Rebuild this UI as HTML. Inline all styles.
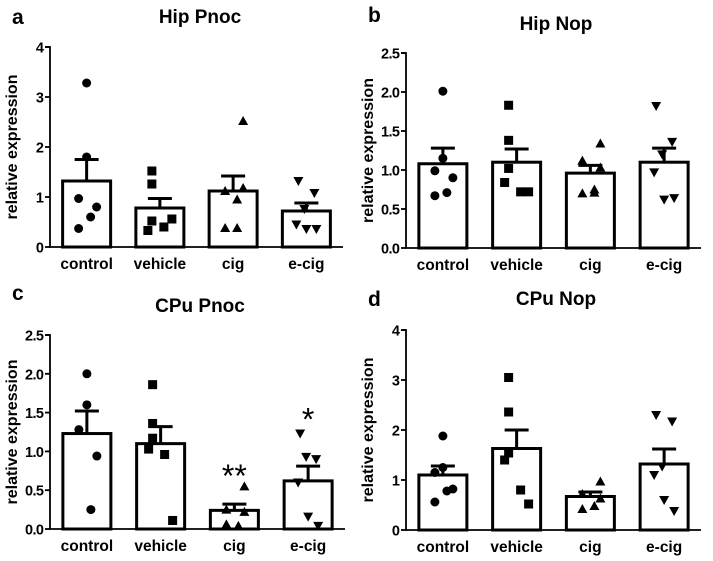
<!DOCTYPE html>
<html><head><meta charset="utf-8">
<style>
html,body{margin:0;padding:0;background:#fff;}
svg{display:block;font-family:"Liberation Sans",Arial,sans-serif;font-weight:bold;}
</style></head>
<body>
<svg id="fig" width="713" height="561" viewBox="0 0 713 561" xmlns="http://www.w3.org/2000/svg"></svg>
<script>
const categories = ["control","vehicle","cig","e-cig"];
const shapes = ["circle","square","up","down"];

const aMeans = [1.32,0.78,1.12,0.72];
const aSem = [1.75,0.97,1.42,0.88];
const aPoints = [[3.28,1.8,0.97,0.8,0.6,0.37],[1.52,1.26,0.52,0.33,0.4,0.56],[2.52,1.12,1.18,0.95,0.38,0.38],[1.32,1.08,0.76,0.45,0.36,0.36]];
const aTicks = ["0","1","2","3","4"];

const bMeans = [1.08,1.1,0.96,1.1];
const bSem = [1.28,1.27,1.06,1.28];
const bPoints = [[2.01,1.15,0.99,0.9,0.71,0.67],[1.83,1.38,1.02,0.84,0.72,0.72],[1.34,1.12,1.03,0.75,0.7,0.71],[1.82,1.36,1.2,0.97,0.62,0.64]];
const bTicks = ["0.0","0.5","1.0","1.5","2.0","2.5"];

const cMeans = [1.23,1.1,0.24,0.62];
const cSem = [1.52,1.32,0.32,0.81];
const cPoints = [[2.0,1.6,1.28,0.94,0.25],[1.86,1.36,1.17,1.03,0.96,0.11],[0.55,0.25,0.22,0.04,0.06],[1.23,0.9,0.93,0.6,0.16,0.04]];
const cTicks = ["0.0","0.5","1.0","1.5","2.0","2.5"];
const cStars = ["","","**","*"];
const cStarY = [0,0,0.77,1.5];

const dMeans = [1.1,1.63,0.67,1.32];
const dSem = [1.28,2.0,0.76,1.62];
const dPoints = [[1.88,1.25,1.15,0.82,0.78,0.56],[3.05,2.36,1.54,1.4,0.8,0.52],[0.97,0.72,0.63,0.48,0.42],[2.3,2.17,1.27,1.1,0.6,0.38]];
const dTicks = ["0","1","2","3","4"];

const jitter = [[0,0,-8,10,4,-8],[-8,-8,-8,-12,4,12],[10,-8,10,4,-8,4],[-8,8,-2,-10,0,10]];
const NS = "http://www.w3.org/2000/svg";
const svg = document.getElementById('fig');
function el(tag, attrs, parent){const e=document.createElementNS(NS,tag);for(const k in attrs)e.setAttribute(k,attrs[k]);(parent||svg).appendChild(e);return e;}

function panel(cfg){
  const g = el('g',{});
  
  
  const x0=cfg.x0,x1=cfg.x1,yTop=cfg.yTop,yBot=cfg.yBot,max=cfg.max;
  const y = v => yBot - v/max*(yBot-yTop);
  const band=(x1-x0)/categories.length;
  const cx = i => x0 + band*(i+0.5);
  let t=el('text',{x:cfg.lx,y:cfg.ly,'font-size':21},g); t.textContent=cfg.letter;
   
  t=el('text',{x:cfg.tx,y:cfg.ty,'font-size':19,'text-anchor':'middle'},g); t.textContent=cfg.title;
   
  cfg.means.forEach((m,i)=>{
    const w=48;
    const r=el('rect',{x:cx(i)-w/2,y:y(m),width:w,height:yBot-y(m),fill:'#fff',stroke:'#000','stroke-width':3},g);
     
    const e=el('path',{d:`M${cx(i)} ${y(m)}V${y(cfg.sem[i])}M${cx(i)-12} ${y(cfg.sem[i])}H${cx(i)+12}`,stroke:'#000','stroke-width':3,fill:'none'},g);
     
  });
  cfg.points.forEach((arr,i)=>{
    arr.forEach((v,j)=>{
      const px=cx(i)+jitter[i][j], py=y(v), s=shapes[i];
      let p;
      if(s==='circle') p=el('circle',{cx:px,cy:py,r:4.5},g);
      else if(s==='square') p=el('rect',{x:px-4.5,y:py-4.5,width:9,height:9},g);
      else if(s==='up') p=el('path',{d:`M${px} ${py-5}L${px+5} ${py+4}L${px-5} ${py+4}Z`},g);
      else p=el('path',{d:`M${px} ${py+5}L${px+5} ${py-4}L${px-5} ${py-4}Z`},g);
       
    });
  });
  const ax=el('path',{d:`M${x0-5} ${yTop}H${x0}V${yBot}H${x1}`,stroke:'#000','stroke-width':1.8,fill:'none'},g);
   
  cfg.ticks.forEach((lab,k)=>{
    const v=parseFloat(lab), ty=y(v);
    el('line',{x1:x0-5,x2:x0,y1:ty,y2:ty,stroke:'#000','stroke-width':1.8},g);
    const tt=el('text',{x:x0-6,y:ty+5.5,'font-size':14.5,'text-anchor':'end'},g); tt.textContent=lab;
    if(lab.length>1) tt.setAttribute('textLength', 19);
     
  });
  categories.forEach((c,i)=>{
    const tt=el('text',{x:cx(i),y:yBot+22,'font-size':15.5,'text-anchor':'middle'},g); tt.textContent=c;
     
  });
  const yl=el('text',{x:0,y:0,'font-size':16,'text-anchor':'middle',transform:`translate(${x0-33},${(yTop+yBot)/2}) rotate(-90)`},g);
  yl.textContent='relative expression';
   
  if(cfg.stars){
    cfg.stars.forEach((s,i)=>{ if(!s) return;
      const st=el('text',{x:cx(i),y:y(cfg.starY[i])+18,'font-size':32,'font-weight':'normal','text-anchor':'middle'},g); st.textContent=s;
       
    });
  }
}
panel({letter:'a',title:'Hip Pnoc',lx:12,ly:24,tx:200,ty:23,x0:50,x1:343,yTop:47,yBot:247,max:4,means:aMeans,sem:aSem,points:aPoints,ticks:aTicks});
panel({letter:'b',title:'Hip Nop',lx:368,ly:22,tx:556,ty:30,x0:406,x1:701,yTop:53,yBot:248,max:2.5,means:bMeans,sem:bSem,points:bPoints,ticks:bTicks});
panel({letter:'c',title:'CPu Pnoc',lx:12,ly:300,tx:200,ty:312,x0:50,x1:345,yTop:335,yBot:529,max:2.5,means:cMeans,sem:cSem,points:cPoints,ticks:cTicks,stars:cStars,starY:cStarY});
panel({letter:'d',title:'CPu Nop',lx:368,ly:306,tx:556,ty:305,x0:406,x1:701,yTop:330,yBot:530,max:4,means:dMeans,sem:dSem,points:dPoints,ticks:dTicks});
</script>
</body></html>
